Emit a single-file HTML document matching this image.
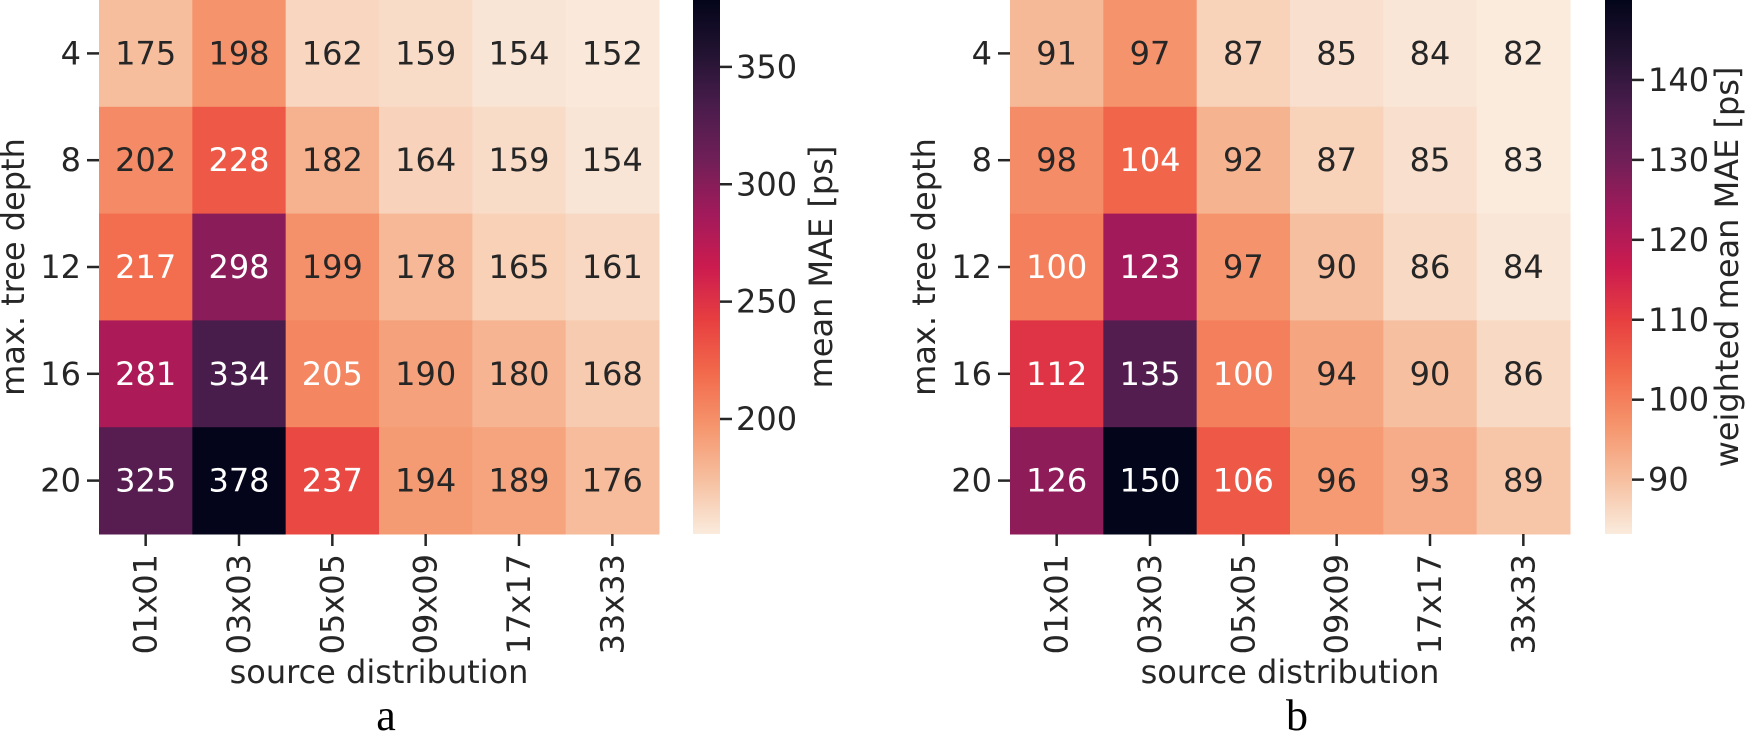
<!DOCTYPE html>
<html><head><meta charset="utf-8"><style>
html,body{margin:0;padding:0;background:#fff;}
svg{display:block;font-family:"DejaVu Sans","Liberation Sans",sans-serif;}
</style></head><body>
<svg id="fig" width="1750" height="737" viewBox="0 0 1750 737" xmlns="http://www.w3.org/2000/svg">
<defs>
<linearGradient id="gradA" x1="0" y1="1" x2="0" y2="0"></linearGradient>
<linearGradient id="gradB" x1="0" y1="1" x2="0" y2="0"></linearGradient>
</defs>
<g id="panelA"></g>
<g id="panelB"></g>
</svg>
<script>
const columns = ["01x01","03x03","05x05","09x09","17x17","33x33"];
const rows = ["4","8","12","16","20"];
const valuesA = [
 [175,198,162,159,154,152],
 [202,228,182,164,159,154],
 [217,298,199,178,165,161],
 [281,334,205,190,180,168],
 [325,378,237,194,189,176]
];
const valuesB = [
 [91,97,87,85,84,82],
 [98,104,92,87,85,83],
 [100,123,97,90,86,84],
 [112,135,100,94,90,86],
 [126,150,106,96,93,89]
];
const ticksA = [200,250,300,350];
const ticksB = [90,100,110,120,130,140];

const NS = "http://www.w3.org/2000/svg";
const FS = 32;
const rocket = ["#03051A","#221331","#4A1C4C","#701F57","#A11A5B","#CB1B4F","#E73F40","#F26A4C","#F5966E","#F6C0A0","#FAEBDD"];
function hex(c){return [parseInt(c.substr(1,2),16),parseInt(c.substr(3,2),16),parseInt(c.substr(5,2),16)];}
function cmap(v){
  v=Math.max(0,Math.min(1,v));
  const p=v*(rocket.length-1), i=Math.min(rocket.length-2,Math.floor(p)), f=p-i;
  const a=hex(rocket[i]), b=hex(rocket[i+1]);
  return [0,1,2].map(k=>Math.round(a[k]+(b[k]-a[k])*f));
}
function rgb(c){return "rgb("+c.join(",")+")";}
function el(tag,attrs,parent,text){
  const e=document.createElementNS(NS,tag);
  for(const k in attrs)e.setAttribute(k,attrs[k]);
  if(text!==undefined)e.textContent=text;
  parent.appendChild(e);return e;
}

function drawPanel(g, grad, gradId, values, ticks, vmin, vmax, L, cbX, cbLabel, cbLabelX, yLabelX, letter){
  const T=0, H=534, W=560, cw=W/columns.length, rh=H/rows.length;
  const xPos=i=>L+i*cw;
  const yPos=j=>T+j*rh;
  const norm=v=>(vmax-v)/(vmax-vmin);
  values.forEach((row,j)=>row.forEach((v,i)=>{
    const n=norm(v);
    const c=cmap(n);
    const r=el("rect",{x:xPos(i),y:yPos(j),width:cw+0.5,height:rh+0.5,fill:rgb(c)},g);
    
    
    const t=el("text",{x:xPos(i)+cw/2,y:yPos(j)+rh/2+11,"text-anchor":"middle","font-size":FS,fill:n>=0.77?"#262626":"#ffffff"},g,String(v));
    
    
  }));
  rows.forEach((r,j)=>{
    const y=yPos(j)+rh/2;
    el("line",{x1:L-12,x2:L,y1:y,y2:y,stroke:"#262626","stroke-width":"2.5"},g);
    const t=el("text",{x:L-18,y:y+11,"text-anchor":"end","font-size":FS,fill:"#262626"},g,r);
    
    
  });
  columns.forEach((c,i)=>{
    const x=xPos(i)+cw/2;
    el("line",{x1:x,x2:x,y1:T+H,y2:T+H+12,stroke:"#262626","stroke-width":"2.5"},g);
    const t=el("text",{transform:"translate("+(x+11)+","+(T+H+20)+") rotate(-90)","text-anchor":"end","font-size":FS,fill:"#262626"},g,c);
    
    
  });
  let t=el("text",{x:L+W/2,y:683,"text-anchor":"middle","font-size":FS,fill:"#262626"},g,"source distribution");
  
  
  t=el("text",{transform:"translate("+yLabelX+","+(T+H/2)+") rotate(-90)","text-anchor":"middle","font-size":FS,fill:"#262626"},g,"max. tree depth");
  
  
  for(let k=0;k<=20;k++){
    const f=k/20;
    el("stop",{offset:f,"stop-color":rgb(cmap(1-f))},grad);
  }
  const cb=el("rect",{x:cbX,y:T,width:27,height:H,fill:"url(#"+gradId+")"},g);
  
  
  const cy=v=>T+H*(vmax-v)/(vmax-vmin);
  ticks.forEach(v=>{
    const y=cy(v);
    el("line",{x1:cbX+27,x2:cbX+39,y1:y,y2:y,stroke:"#262626","stroke-width":"2.5"},g);
    const tt=el("text",{x:cbX+43,y:y+11,"font-size":FS,fill:"#262626"},g,String(v));
    
    
  });
  t=el("text",{transform:"translate("+cbLabelX+","+(T+H/2)+") rotate(-90)","text-anchor":"middle","font-size":FS,fill:"#262626"},g,cbLabel);
  
  
  t=el("text",{x:L+W/2+7,y:730,"text-anchor":"middle","font-size":"44","font-family":"Liberation Serif, serif",fill:"#000"},g,letter);
  
  
}
drawPanel(document.getElementById("panelA"),document.getElementById("gradA"),"gradA",valuesA,ticksA,151,378.5,99,693,"mean MAE [ps]",832,24,"a");
drawPanel(document.getElementById("panelB"),document.getElementById("gradB"),"gradB",valuesB,ticksB,83.2,150,1010,1605,"weighted mean MAE [ps]",1738,935,"b");
</script>
</body></html>
